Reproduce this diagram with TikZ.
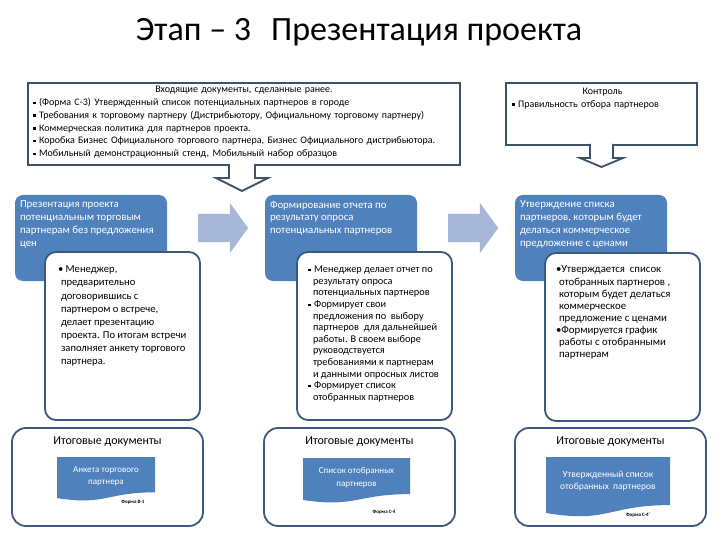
\documentclass[tikz,border=0pt]{standalone}
\usepackage{fontspec}
\setmainfont{Carlito}
\usetikzlibrary{shapes.arrows, positioning, calc}

\definecolor{hdrblue}{HTML}{4F81BD}
\definecolor{frameblue}{HTML}{3B5A80}
\definecolor{inframe}{HTML}{3F5166}
\definecolor{stepblue}{HTML}{A7B7D8}

\newcommand{\sqbul}{\raisebox{1.3pt}{\rule{2.6pt}{2.6pt}}\hspace{3.5pt}}

\begin{document}
\begin{tikzpicture}[x=1pt, y=-1pt,
    every node/.style={inner sep=0pt, outer sep=0pt},
    docin/.style={rectangle, draw=inframe, line width=1.8pt, fill=white, anchor=north west},
    stagehead/.style={rectangle, rounded corners=8pt, fill=hdrblue, anchor=north west,
                      minimum width=152pt, minimum height=86pt},
    stagebody/.style={rectangle, rounded corners=11pt, draw=frameblue, line width=1.8pt, fill=white,
                      anchor=north west, minimum width=155pt, minimum height=168pt},
    resultbox/.style={rectangle, rounded corners=14pt, draw=frameblue, line width=1.8pt, fill=white,
                      anchor=north west, minimum width=191pt, minimum height=98pt},
    steparrow/.style={single arrow, fill=stepblue, inner xsep=0pt, inner ysep=14pt, minimum height=50pt,
                      single arrow head extend=11pt, single arrow tip angle=108},
    downarrow/.style={draw=inframe, line width=1.8pt, fill=white, line join=miter},
    head_t/.style={anchor=north west, align=left, text=white, font=\fontsize{10.8}{12.7}\selectfont},
    body_t/.style={anchor=north west, align=left, font=\fontsize{10.6}{13.1}\selectfont},
    doc_t/.style={text=white, align=center, font=\fontsize{9}{12.5}\selectfont},
    form_s/.style={font=\fontsize{5}{6}\selectfont\bfseries},
    result_t/.style={font=\fontsize{12}{14}\selectfont},
]
\fill[white] (0,0) rectangle (720,540);
\useasboundingbox (0,0) rectangle (720,540);

% Title
\node[font=\fontsize{34}{38}\selectfont, anchor=base] (title) at (359,41) {Этап – 3\hspace{20pt}Презентация проекта};

% Row 1: input documents and control
\node[docin, minimum width=432pt, minimum height=82pt] (indocs) at (28,83) {};
\node[anchor=north west, align=left, text width=422pt, font=\fontsize{10}{12.7}\selectfont] (indocs_t)
    at ($(indocs.north west)+(5,3.5)$) {\makebox[422pt][c]{Входящие документы, сделанные ранее.}\\
    \sqbul(Форма С-3) Утвержденный список потенциальных партнеров в городе\\
    \sqbul Требования к торговому партнеру (Дистрибьютору, Официальному торговому партнеру)\\
    \sqbul Коммерческая политика для партнеров проекта.\\
    \sqbul Коробка Бизнес Официального торгового партнера, Бизнес Официального дистрибьютора.\\
    \sqbul Мобильный демонстрационный стенд, Мобильный набор образцов};

\node[docin, minimum width=191pt, minimum height=62pt] (ctrl) at (506,83) {};
\node[anchor=north west, align=left, text width=181pt, font=\fontsize{10}{12.7}\selectfont] (ctrl_t)
    at ($(ctrl.north west)+(6,5)$) {\makebox[181pt][c]{Контроль}\\
    \sqbul Правильность отбора партнеров};

% Down arrows out of row 1
\path[downarrow] ($(indocs.south)+(-15,-1.2)$) -- ++(0,14.2) -- ++(-13,0) -- ++(26,13)
    -- ++(26,-13) -- ++(-13,0) -- ++(0,-14.2);
\path[downarrow] ($(ctrl.south)+(-11.5,-1.2)$) -- ++(0,14.2) -- ++(-10,0) -- ++(21.5,9)
    -- ++(21.5,-9) -- ++(-10,0) -- ++(0,-14.2);

% Column 1: presentation
\node[stagehead] (head1) at (15,195) {};
\node[head_t] (head1_t) at ($(head1.north west)+(5,6)$) {Презентация проекта\\потенциальным торговым\\партнерам без предложения\\цен};
\node[stagebody] (body1) at (45,252) {};
\node[body_t] (body1_t) at ($(body1.north west)+(13,14)$) {\textbullet\ Менеджер,\\
    \hspace*{3pt}предварительно\\
    \hspace*{3pt}договорившись с\\
    \hspace*{3pt}партнером о встрече,\\
    \hspace*{3pt}делает презентацию\\
    \hspace*{3pt}проекта. По итогам встречи\\
    \hspace*{3pt}заполняет анкету торгового\\
    \hspace*{3pt}партнера.};

% Column 2: report
\node[stagehead] (head2) at (265,195) {};
\node[head_t] (head2_t) at ($(head2.north west)+(5,6)$) {Формирование отчета по\\результату опроса\\потенциальных партнеров};
\node[stagebody] (body2) at (297,252) {};
\node[body_t, font=\fontsize{10.3}{11.6}\selectfont] (body2_t) at ($(body2.north west)+(11,14)$) {\sqbul Менеджер делает отчет по\\
    \hspace*{5pt}результату опроса\\
    \hspace*{5pt}потенциальных партнеров\\
    \sqbul Формирует свои\\
    \hspace*{5pt}предложения по\ \ выбору\\
    \hspace*{5pt}партнеров\ \ для дальнейшей\\
    \hspace*{5pt}работы. В своем выборе\\
    \hspace*{5pt}руководствуется\\
    \hspace*{5pt}требованиями к партнерам\\
    \hspace*{5pt}и данными опросных листов\\
    \sqbul Формирует список\\
    \hspace*{5pt}отобранных партнеров};

% Column 3: approval
\node[stagehead] (head3) at (515,195) {};
\node[head_t] (head3_t) at ($(head3.north west)+(5,6)$) {Утверждение списка\\партнеров, которым будет\\делаться коммерческое\\предложение с ценами};
\node[stagebody] (body3) at (545,253) {};
\node[body_t, font=\fontsize{10.8}{12.1}\selectfont] (body3_t) at ($(body3.north west)+(11,13)$) {\textbullet Утверждается\ \ список\\
    \hspace*{3pt}отобранных партнеров ,\\
    \hspace*{3pt}которым будет делаться\\
    \hspace*{3pt}коммерческое\\
    \hspace*{3pt}предложение с ценами\\
    \textbullet Формируется график\\
    \hspace*{3pt}работы с отобранными\\
    \hspace*{3pt}партнерам};

% Arrows between stages
\node[steparrow] (step12) at ($(head1.east)!0.5!(head2.west)+(2,-10)$) {};
\node[steparrow] (step23) at ($(head2.east)!0.5!(head3.west)+(2,-10)$) {};

% Row 3: resulting documents
\node[resultbox] (res1) at (12,428) {};
\node[resultbox] (res2) at (264,428) {};
\node[resultbox] (res3) at (515,428) {};
\node[result_t] (res1_t) at ($(res1.north)+(0,14)$) {Итоговые документы};
\node[result_t] (res2_t) at ($(res2.north)+(0,14)$) {Итоговые документы};
\node[result_t] (res3_t) at ($(res3.north)+(0,14)$) {Итоговые документы};

\fill[hdrblue] (57,457) -- (155,457) -- (155,492.3) .. controls (106,492.3) and (106,505.7) .. (57,498.1) -- cycle;
\fill[hdrblue] (303,458) -- (410,458) -- (410,494.1) .. controls (356.5,494.1) and (356.5,507.8) .. (303,500) -- cycle;
\fill[hdrblue] (546,457) -- (670,457) -- (670,505.1) .. controls (608,505.1) and (608,523.4) .. (546,513) -- cycle;

\node[doc_t] (doc1) at (106,476.5) {Анкета торгового\\партнера};
\node[doc_t] (doc2) at (356.5,477.5) {Список отобранных\\партнеров};
\node[doc_t, font=\fontsize{9.5}{12}\selectfont] (doc3) at (608,481) {Утвержденный список\\отобранных\ \ партнеров};

\node[form_s] (form1) at (133,502) {Форма В-1};
\node[form_s] (form2) at (384,512) {Форма С-4};
\node[form_s] (form3) at (638,515) {Форма С-4'};

\end{tikzpicture}
\end{document}
